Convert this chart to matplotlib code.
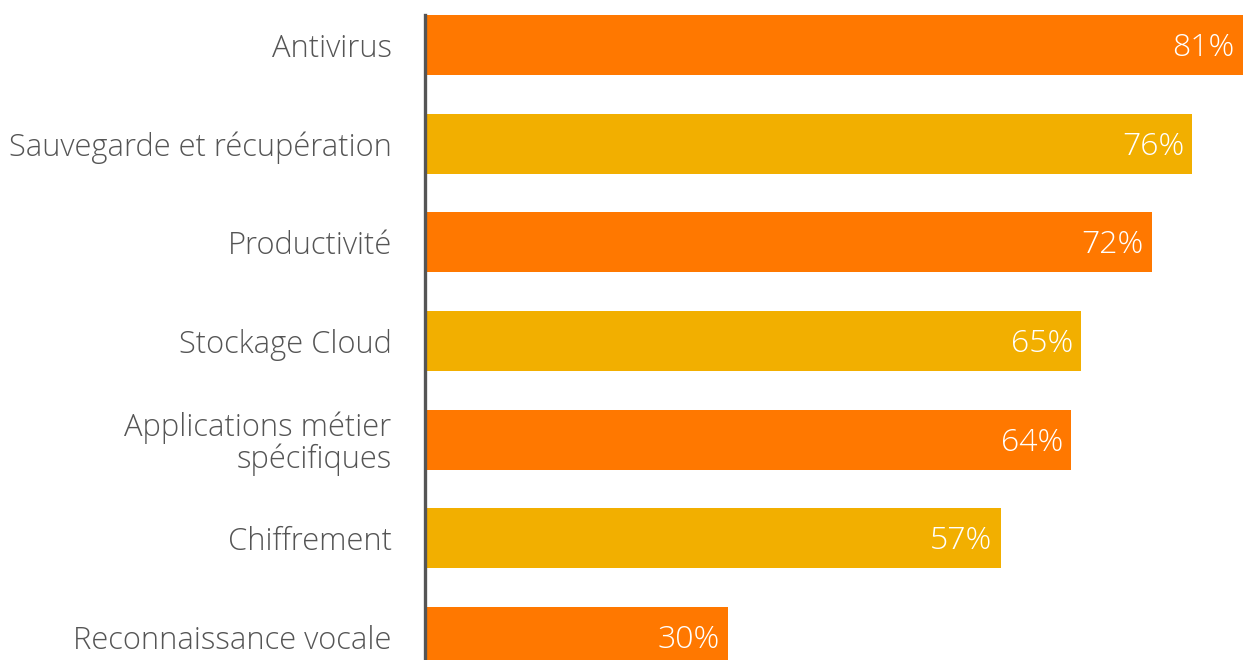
import matplotlib
matplotlib.use('Agg')
import matplotlib.pyplot as plt

categories = ['Antivirus', 'Sauvegarde et récupération', 'Productivité', 'Stockage Cloud',
              'Applications métier\nspécifiques', 'Chiffrement', 'Reconnaissance vocale']
values = [81, 76, 72, 65, 64, 57, 30]
colors = ['#FF7800', '#F2AF00', '#FF7800', '#F2AF00', '#FF7800', '#F2AF00', '#FF7800']

plt.rcParams['font.family'] = ['Open Sans', 'DejaVu Sans']

fig = plt.figure(figsize=(12.53, 6.6), dpi=100)
ax = fig.add_axes([425 / 1253, 0, 1 - 425 / 1253, 1 - 15 / 660])

pos = list(range(len(categories)))
ax.barh(pos, values, height=0.61, color=colors)
ax.set_ylim(6.233, -0.305)
ax.set_xlim(0, 82)

for p, v in zip(pos, values):
    ax.text(v - 0.8, p + 0.03, str(v) + '%', ha='right', va='center',
            color='white', fontsize=23, fontweight='light')

ax.set_yticks(pos)
ax.set_yticklabels(categories, fontsize=22.2, fontweight='light', color='#555555', ha='right',
                   linespacing=1.0)
ax.tick_params(axis='y', length=0, pad=24)
ax.set_xticks([])
for side in ['top', 'right', 'bottom']:
    ax.spines[side].set_visible(False)
ax.spines['left'].set_color('#555555')
ax.spines['left'].set_linewidth(2.4)

fig.savefig('out.png', dpi=100)
